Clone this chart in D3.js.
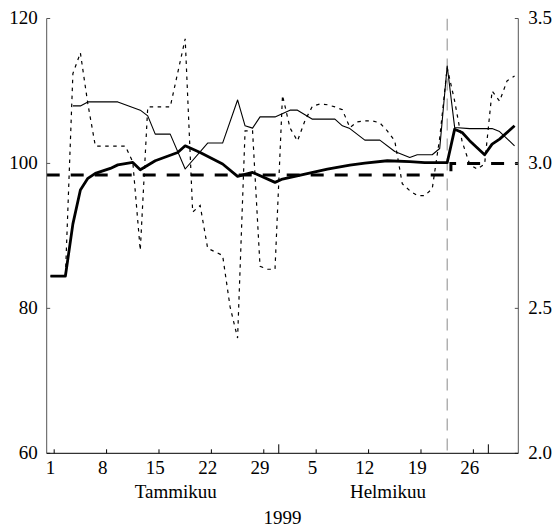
<!DOCTYPE html>
<html>
<head>
<meta charset="utf-8">
<script src="https://cdn.jsdelivr.net/npm/d3@7"></script>
<style>
  body { margin: 0; background: #fff; }
  svg { display: block; }
  text { font-family: "Liberation Serif", "Times New Roman", serif; font-size: 19px; fill: #000; }
</style>
</head>
<body>
<svg id="chart" width="554" height="526"></svg>
<script>
// Daily readings, day number counted from 1 January 1999 (= day 0).
const indexSeries = [
  [0, 84.46], [2, 84.46], [3, 91.66], [4, 96.34], [5, 97.94], [6, 98.62], [8, 99.31],
  [9, 99.8], [11, 100.14], [12, 99.13], [14, 100.37], [17, 101.51], [18, 102.43],
  [20, 101.51], [23, 99.92], [25, 98.21], [27, 98.76], [30, 97.39], [31, 97.85],
  [34, 98.54], [37, 99.23], [40, 99.78], [42, 100.05], [45, 100.37], [48, 100.25],
  [50, 100.1], [53, 100.1], [54, 104.73], [55, 104.27], [56, 103.14], [58, 101.2],
  [59, 102.67], [60, 103.36], [62, 105.19]
];
const secondSeries = [
  [3, 107.94], [4, 107.94], [5, 108.49], [9, 108.49], [12, 107.35], [13, 106.56],
  [14, 104.04], [16, 104.04], [18, 99.23], [21, 102.81], [23, 102.81], [25, 108.76],
  [26, 105.19], [27, 104.87], [28, 106.42], [30, 106.42], [32, 107.35], [33, 107.35],
  [35, 106.11], [38, 106.11], [39, 105.19], [40, 104.81], [42, 103.22], [44, 103.22],
  [46, 101.65], [48, 100.83], [49, 101.2], [51, 101.2], [52, 102.06], [53, 113.44],
  [54, 104.95], [56, 104.81], [59, 104.81], [60, 104.4], [62, 102.43]
];
const dottedSeries = [
  [0, 84.46], [2, 84.46], [3, 112.4], [4, 115.27], [5, 108.2], [6, 102.4], [10, 102.4],
  [11, 100.2], [12, 88.0], [13, 107.8], [16, 107.8], [17, 112.5], [18, 117.19],
  [19, 93.3], [20, 94.2], [21, 88.3], [22, 87.8], [23, 87.3], [24, 80.2], [25, 75.9],
  [26, 104.5], [27, 104.5], [28, 85.8], [29, 85.4], [30, 85.4], [31, 109.4],
  [32, 104.9], [33, 103.1], [34, 105.9], [35, 107.9], [36, 108.2], [37, 108.1],
  [38, 107.8], [39, 107.4], [40, 104.95], [41, 105.74], [42, 105.87], [43, 105.87],
  [44, 105.6], [45, 104.5], [46, 103.1], [47, 97.2], [48, 96.25], [49, 95.56],
  [50, 95.56], [51, 96.5], [52, 103.5], [53, 113.2], [54, 108.6], [55, 103.0],
  [56, 99.9], [57, 99.2], [58, 99.9], [59, 110.0], [60, 108.6], [61, 111.4], [62, 112.06]
];
// Rate level (right axis), changes at the start of the given day.
const rateSteps = [["1999-01-01", 2.96], ["1999-02-24", 3.0], ["1999-03-05", 3.0]];

const leftTicks = [60, 80, 100, 120];
const rightTicks = [2.0, 2.5, 3.0, 3.5];
const dayTicks = ["1999-01-01", "1999-01-08", "1999-01-15", "1999-01-22", "1999-01-29",
                  "1999-02-05", "1999-02-12", "1999-02-19", "1999-02-26"];
const monthStarts = ["1999-02-01", "1999-03-01"];
const monthLabels = [["Tammikuu", "1999-01-18 06"], ["Helmikuu", "1999-02-15 14"]];
const yearLabel = ["1999", "1999-02-01 12"];
const eventDay = "1999-02-23";

(function draw() {
  const parseDay = d3.timeParse("%Y-%m-%d");
  const parseHour = d3.timeParse("%Y-%m-%d %H");
  const start = parseDay("1999-01-01");
  const end = parseDay("1999-03-05");
  const noonOf = n => d3.timeHour.offset(d3.timeDay.offset(start, n), 12);

  const m = { left: 46.7, right: 518.3, top: 18.5, bottom: 453.3 };

  const x = d3.scaleTime().domain([start, end]).range([m.left, m.right]);
  const yL = d3.scaleLinear().domain([60, 120]).range([m.bottom, m.top]);
  const yR = d3.scaleLinear().domain([2.0, 3.5]).range([m.bottom, m.top]);

  const svg = d3.select("#chart");

  svg.append("defs").append("clipPath").attr("id", "plot")
    .append("rect").attr("x", m.left).attr("y", m.top)
    .attr("width", m.right - m.left).attr("height", m.bottom - m.top);

  const plot = svg.append("g").attr("clip-path", "url(#plot)");

  // Event marker
  const ev = d3.timeHour.offset(parseDay(eventDay), 12);
  plot.append("line")
    .attr("x1", x(ev)).attr("x2", x(ev)).attr("y1", m.top).attr("y2", m.bottom)
    .attr("stroke", "#8a8a8a").attr("stroke-width", 1).attr("stroke-dasharray", "12,8");

  // Rate step line
  plot.append("path")
    .datum(rateSteps)
    .attr("fill", "none").attr("stroke", "#000").attr("stroke-width", 3)
    .attr("stroke-dasharray", "13,11")
    .attr("d", d3.line().curve(d3.curveStepAfter)
      .x(d => x(parseDay(d[0]))).y(d => yR(d[1])));

  const dayLine = d3.line().x(d => x(noonOf(d[0]))).y(d => yL(d[1]));

  plot.append("path").datum(dottedSeries)
    .attr("fill", "none").attr("stroke", "#000").attr("stroke-width", 1.2)
    .attr("stroke-dasharray", "3.5,4.5").attr("d", dayLine);

  plot.append("path").datum(secondSeries)
    .attr("fill", "none").attr("stroke", "#000").attr("stroke-width", 1.1)
    .attr("stroke-linejoin", "round").attr("d", dayLine);

  plot.append("path").datum(indexSeries)
    .attr("fill", "none").attr("stroke", "#000").attr("stroke-width", 2.8)
    .attr("stroke-linejoin", "round").attr("d", dayLine);

  // Left axis
  const axL = svg.append("g");
  axL.append("line").attr("x1", m.left).attr("x2", m.left).attr("y1", m.top).attr("y2", m.bottom)
    .attr("stroke", "#555");
  axL.selectAll("line.t").data(leftTicks).join("line").attr("class", "t")
    .attr("x1", m.left).attr("x2", m.left + 3.5).attr("y1", d => yL(d)).attr("y2", d => yL(d))
    .attr("stroke", "#555");
  axL.selectAll("text").data(leftTicks).join("text")
    .attr("x", m.left - 9).attr("y", d => yL(d) + 5.5).attr("text-anchor", "end")
    .text(d => d);

  // Right axis
  const axR = svg.append("g");
  axR.append("line").attr("x1", m.right).attr("x2", m.right).attr("y1", m.top).attr("y2", m.bottom)
    .attr("stroke", "#555");
  axR.selectAll("line.t").data(rightTicks).join("line").attr("class", "t")
    .attr("x1", m.right - 3.5).attr("x2", m.right).attr("y1", d => yR(d)).attr("y2", d => yR(d))
    .attr("stroke", "#555");
  axR.selectAll("text").data(rightTicks).join("text")
    .attr("x", m.right + 10).attr("y", d => yR(d) + 5.5).attr("text-anchor", "start")
    .text(d3.format(".1f"));

  // Bottom axis: ticks close each labelled day, labels sit on the day itself
  const axB = svg.append("g");
  axB.append("line").attr("x1", m.left).attr("x2", m.right).attr("y1", m.bottom).attr("y2", m.bottom)
    .attr("stroke", "#000");
  const tickDates = dayTicks.map(parseDay);
  axB.selectAll("line.t").data(tickDates).join("line").attr("class", "t")
    .attr("x1", d => x(d3.timeDay.offset(d, 1))).attr("x2", d => x(d3.timeDay.offset(d, 1)))
    .attr("y1", m.bottom).attr("y2", m.bottom - 4).attr("stroke", "#000");
  axB.selectAll("line.m").data(monthStarts.map(parseDay)).join("line").attr("class", "m")
    .attr("x1", d => x(d)).attr("x2", d => x(d))
    .attr("y1", m.bottom).attr("y2", m.bottom - 9).attr("stroke", "#000");
  axB.selectAll("text.d").data(tickDates).join("text").attr("class", "d")
    .attr("x", d => x(d3.timeHour.offset(d, 12))).attr("y", 473.5)
    .attr("text-anchor", "middle").text(d3.timeFormat("%-d"));
  axB.selectAll("text.m").data(monthLabels).join("text").attr("class", "m")
    .attr("x", d => x(parseHour(d[1]))).attr("y", 497.5)
    .attr("text-anchor", "middle").text(d => d[0]);
  axB.append("text")
    .attr("x", x(parseHour(yearLabel[1]))).attr("y", 523.5)
    .attr("text-anchor", "middle").text(yearLabel[0]);
})();
</script>
</body>
</html>
